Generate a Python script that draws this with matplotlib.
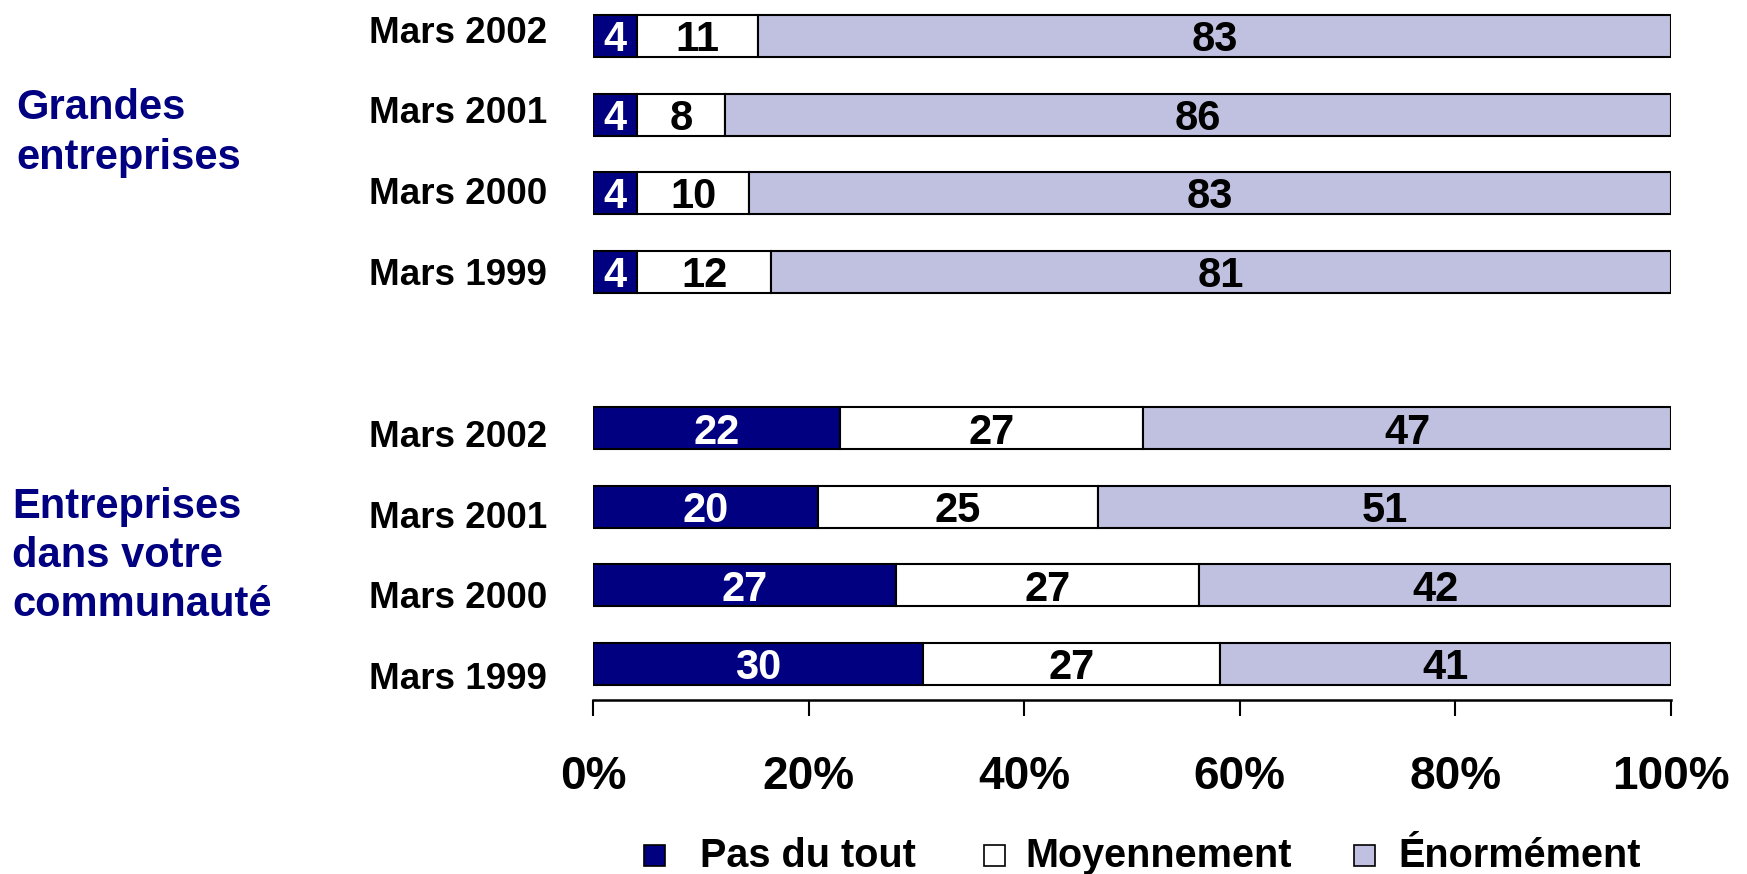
import matplotlib
matplotlib.use("Agg")
import matplotlib.pyplot as plt
from matplotlib.patches import Rectangle
import numpy as np

plt.rcParams['font.family'] = ['Liberation Sans', 'DejaVu Sans']
plt.rcParams['font.weight'] = 'bold'

# ---- data ----
row_labels = ["Mars 2002", "Mars 2001", "Mars 2000", "Mars 1999"]
groups = ["Grandes\nentreprises", "Entreprises\ndans votre\ncommunauté"]
series = ["Pas du tout", "Moyennement", "Énormément"]
grandes_pas = [4, 4, 4, 4]
grandes_moy = [11, 8, 10, 12]
grandes_eno = [83, 86, 83, 81]
comm_pas = [22, 20, 27, 30]
comm_moy = [27, 25, 27, 27]
comm_eno = [47, 51, 42, 41]
xticks = [0, 20, 40, 60, 80, 100]
xtick_labels = ["0%", "20%", "40%", "60%", "80%", "100%"]

colors = ["#000080", "#FFFFFF", "#C0C0E0"]
text_colors = ["white", "black", "black"]

W, H = 1747, 874
fig = plt.figure(figsize=(W / 100, H / 100), dpi=100)
ax = fig.add_axes([593 / W, 1 - 700 / H, (1671 - 593) / W, 700 / H])

# y positions: top group 8..5, bottom group 3..0
top_pos = [8, 7, 6, 5]
bot_pos = [3, 2, 1, 0]

VAL_FS = 30

def draw_group(pos, pas, moy, eno):
    data = np.array([pas, moy, eno], dtype=float)
    pct = data / data.sum(axis=0) * 100
    left = np.zeros(len(pos))
    for k in range(3):
        bars = ax.barh(pos, pct[k], left=left, height=0.535, color=colors[k],
                       edgecolor="black", linewidth=1.5)
        for b, v, l, w in zip(bars, data[k], left, pct[k]):
            ax.annotate(f"{int(v)}", (l + w / 2, b.get_y() + b.get_height() / 2),
                        xytext=(0, -0.365 * VAL_FS), textcoords="offset points",
                        ha="center", va="baseline", color=text_colors[k],
                        fontsize=VAL_FS, fontweight="bold")
        left += pct[k]

draw_group(top_pos, grandes_pas, grandes_moy, grandes_eno)
draw_group(bot_pos, comm_pas, comm_moy, comm_eno)

ax.set_xlim(0, 100)
ax.set_ylim(-0.46, 8.46)
# row labels sit on a slightly wider grid than the bars
all_pos = np.array(top_pos + bot_pos, dtype=float)
label_pos = 4 + (all_pos - 4) * 1.03 - 0.03
ax.set_yticks(label_pos)
ax.set_yticklabels(row_labels + row_labels, fontsize=26.5, fontweight="bold")
ax.tick_params(axis="y", length=0, pad=33)
ax.set_xticks(xticks)
ax.set_xticklabels(xtick_labels, fontsize=33, fontweight="bold")
ax.tick_params(axis="x", direction="out", length=11.5, width=1.5, pad=28)
for s in ["top", "left", "right"]:
    ax.spines[s].set_visible(False)
ax.spines["bottom"].set_linewidth(1.8)
ax.set_facecolor("none")

# group labels
fig.text(16 / W, 1 - 133 / H, groups[0], ha="left", va="center",
         fontsize=30, fontweight="bold", color="#000080", linespacing=1.3)
fig.text(12 / W, 1 - 556 / H, groups[1], ha="left", va="center",
         fontsize=30, fontweight="bold", color="#000080", linespacing=1.3)

# legend (manual)
legend_marker_x = [644, 984, 1354]
legend_text_x = [700, 1025, 1398]
ly = 856
for mx, tx, c, lab in zip(legend_marker_x, legend_text_x, colors, series):
    fig.patches.append(Rectangle((mx / W, (H - ly - 10) / H), 21 / W, 21 / H,
                                 transform=fig.transFigure, facecolor=c,
                                 edgecolor="black", linewidth=1.2))
    fig.text(tx / W, 1 - ly / H, lab, ha="left", va="center",
             fontsize=28.5, fontweight="bold", color="black")

fig.savefig("out.png", dpi=100)
